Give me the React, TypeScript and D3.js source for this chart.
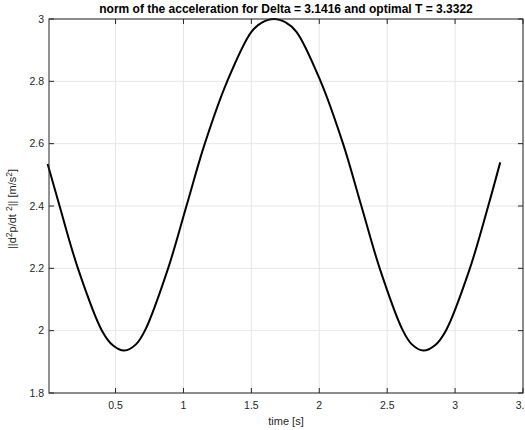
import { useEffect, useRef } from "react";
import * as d3 from "d3";

const W = 525;
const H = 430;
const MARGIN = { top: 19, right: 2, bottom: 37, left: 49 };

// time samples [s] and acceleration norm [m/s^2]
const TIMES = [
  0, 0.088, 0.223, 0.4, 0.48, 0.565, 0.65, 0.716, 0.887, 1.022, 1.157, 1.322, 1.5, 1.58, 1.666,
  1.752, 1.832, 2.01, 2.175, 2.31, 2.445, 2.616, 2.682, 2.767, 2.852, 2.932, 3.109, 3.244, 3.3322,
];
const ACC = [
  2.535, 2.4, 2.2, 2.0, 1.953, 1.936, 1.956, 2.0, 2.2, 2.4, 2.6, 2.8, 2.959, 2.989, 3.0,
  2.989, 2.959, 2.8, 2.6, 2.4, 2.2, 2.0, 1.956, 1.936, 1.953, 2.0, 2.2, 2.4, 2.54,
];
const X_TICKS = [0.5, 1, 1.5, 2, 2.5, 3, 3.5];
const Y_TICKS = [1.8, 2, 2.2, 2.4, 2.6, 2.8, 3];
const X_DOMAIN = [0.01, 3.5];
const Y_DOMAIN = [1.8, 3];

const FONT = "'Liberation Sans', Arial, Helvetica, sans-serif";
const AXIS_COLOR = "#262626";
const GRID_COLOR = "#e6e6e6";

export default function App() {
  const svgRef = useRef<SVGSVGElement>(null);

  useEffect(() => {
    if (!svgRef.current) return;
    const svg = d3.select(svgRef.current);
    svg.selectAll("*").remove();

    const x0 = MARGIN.left;
    const x1 = W - MARGIN.right;
    const y0 = H - MARGIN.bottom;
    const y1 = MARGIN.top;

    const x = d3.scaleLinear().domain(X_DOMAIN).range([x0, x1]);
    const y = d3.scaleLinear().domain(Y_DOMAIN).range([y0, y1]);

    // grid
    const grid = svg.append("g").attr("stroke", GRID_COLOR).attr("stroke-width", 1);
    X_TICKS.forEach((t) => {
      grid.append("line")
        .attr("x1", x(t)).attr("x2", x(t))
        .attr("y1", y0).attr("y2", y1);
    });
    Y_TICKS.forEach((t) => {
      grid.append("line")
        .attr("x1", x0).attr("x2", x1)
        .attr("y1", y(t)).attr("y2", y(t));
    });

    // data line
    const line = d3.line<number>()
      .x((_, i) => x(TIMES[i]))
      .y((d) => y(d))
      .curve(d3.curveCatmullRom.alpha(0.5));

    svg.append("path")
      .datum(ACC)
      .attr("fill", "none")
      .attr("stroke", "#000")
      .attr("stroke-width", 2)
      .attr("stroke-linejoin", "round")
      .attr("d", line);

    // box + ticks
    const ax = svg.append("g").attr("stroke", AXIS_COLOR).attr("stroke-width", 1).attr("fill", "none");
    ax.append("rect")
      .attr("x", x0).attr("y", y1)
      .attr("width", x1 - x0).attr("height", y0 - y1);
    const TL = 5;
    X_TICKS.forEach((t) => {
      ax.append("line").attr("x1", x(t)).attr("x2", x(t)).attr("y1", y0).attr("y2", y0 - TL);
      ax.append("line").attr("x1", x(t)).attr("x2", x(t)).attr("y1", y1).attr("y2", y1 + TL);
    });
    Y_TICKS.forEach((t) => {
      ax.append("line").attr("x1", x0).attr("x2", x0 + TL).attr("y1", y(t)).attr("y2", y(t));
      ax.append("line").attr("x1", x1).attr("x2", x1 - TL).attr("y1", y(t)).attr("y2", y(t));
    });

    // tick labels
    svg.append("g").selectAll("text")
      .data(X_TICKS)
      .join("text")
      .attr("x", (d) => x(d))
      .attr("y", y0 + 16)
      .attr("text-anchor", "middle")
      .style("font-family", FONT)
      .style("font-size", "10.5px")
      .attr("fill", AXIS_COLOR)
      .text((d) => String(d));

    svg.append("g").selectAll("text")
      .data(Y_TICKS)
      .join("text")
      .attr("x", x0 - 5)
      .attr("y", (d) => y(d) + 3.5)
      .attr("text-anchor", "end")
      .style("font-family", FONT)
      .style("font-size", "10.5px")
      .attr("fill", AXIS_COLOR)
      .text((d) => String(d));

    // x label
    svg.append("text")
      .attr("x", (x0 + x1) / 2)
      .attr("y", y0 + 32)
      .attr("text-anchor", "middle")
      .style("font-family", FONT)
      .style("font-size", "11px")
      .attr("fill", AXIS_COLOR)
      .text("time [s]");

    // y label with superscripts
    const yl = svg.append("text")
      .attr("transform", `translate(16,${(y0 + y1) / 2 + 3}) rotate(-90)`)
      .attr("text-anchor", "middle")
      .style("font-family", FONT)
      .style("font-size", "11px")
      .attr("fill", AXIS_COLOR);
    yl.append("tspan").text("||d");
    yl.append("tspan").attr("dy", -4).style("font-size", "8.5px").text("2");
    yl.append("tspan").attr("dy", 4).text("p/dt ");
    yl.append("tspan").attr("dy", -4).style("font-size", "8.5px").text("2");
    yl.append("tspan").attr("dy", 4).text("|| [m/s");
    yl.append("tspan").attr("dy", -4).style("font-size", "8.5px").text("2");
    yl.append("tspan").attr("dy", 4).text("]");

    // title
    svg.append("text")
      .attr("x", (x0 + x1) / 2)
      .attr("y", 13)
      .attr("text-anchor", "middle")
      .style("font-family", FONT)
      .style("font-size", "12px")
      .style("font-weight", "bold")
      .attr("fill", "#000")
      .text("norm of the acceleration for Delta = 3.1416 and optimal T = 3.3322");
  }, []);

  return (
    <svg
      ref={svgRef}
      width={W}
      height={H}
      style={{ position: "absolute", left: 0, top: 0, background: "white" }}
    />
  );
}
